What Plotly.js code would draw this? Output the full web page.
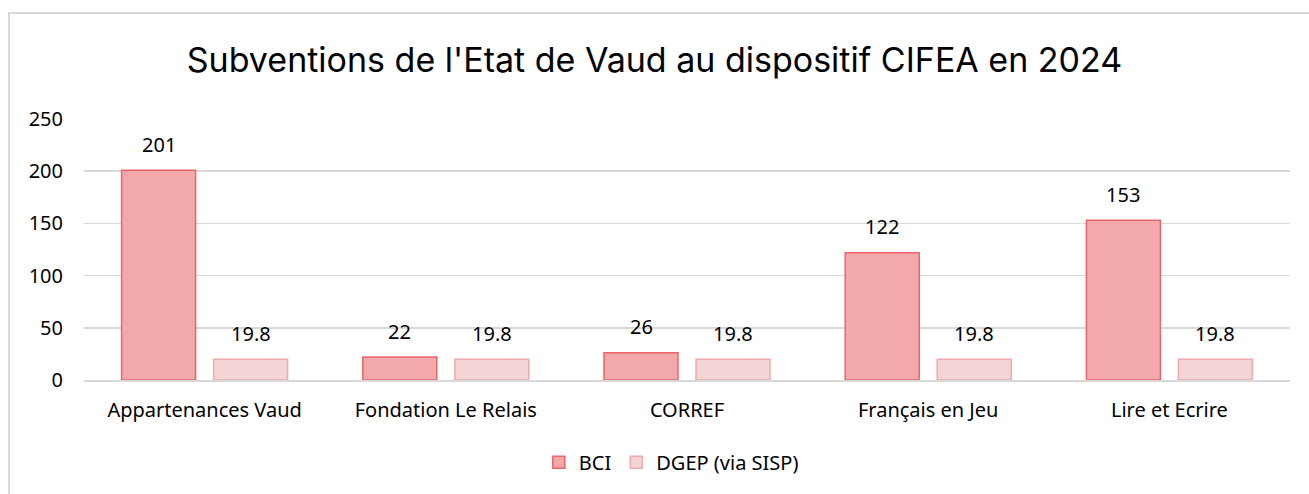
<!DOCTYPE html>
<html>
<head>
<meta charset="utf-8">
<script src="https://cdn.plot.ly/plotly-3.0.1.min.js"></script>
<style>
  html, body { margin: 0; padding: 0; background: #fff; }
  #frame { position: absolute; left: 8px; top: 12px; width: 1310px; height: 490px; border: 2px solid #d9d9d9; box-sizing: border-box; }
  #chart { position: absolute; left: 0; top: 0; width: 1309px; height: 494px; }
</style>
</head>
<body>
<div id="frame"></div>
<div id="chart"></div>
<script>
const categories = ["Appartenances Vaud", "Fondation Le Relais", "CORREF", "Français en Jeu", "Lire et Ecrire"];
const bciValues = [201, 22, 26, 122, 153];
const dgepValues = [19.8, 19.8, 19.8, 19.8, 19.8];
const seriesNames = ["BCI", "DGEP (via SISP)"];
const yTicks = [0, 50, 100, 150, 200, 250];

const labelFont = { family: "'Noto Sans', sans-serif", size: 20, color: "#000" };

const traces = [
  {
    type: "bar", name: seriesNames[0], x: categories, y: bciValues,
    marker: { color: "#f3a8a9", line: { color: "#e8666b", width: 1.5 } },
    hoverinfo: "x+y"
  },
  {
    type: "bar", name: seriesNames[1], x: categories, y: dgepValues,
    marker: { color: "#f4d4d5", line: { color: "#eeaaac", width: 1.5 } },
    hoverinfo: "x+y"
  }
];

const annotations = [];
const offsets = [-46, 46];
[bciValues, dgepValues].forEach((vals, s) => {
  vals.forEach((v, i) => {
    annotations.push({
      x: categories[i], y: v, xref: "x", yref: "y",
      text: String(v), showarrow: false,
      xshift: offsets[s], yshift: 26,
      font: labelFont
    });
  });
});

const layout = {
  width: 1309, height: 494,
  paper_bgcolor: "rgba(0,0,0,0)", plot_bgcolor: "rgba(0,0,0,0)",
  margin: { l: 84, r: 19, t: 119, b: 114 },
  title: {
    text: "Subventions de l'Etat de Vaud au dispositif CIFEA en 2024",
    font: { family: "Inter, 'Noto Sans', sans-serif", size: 34, color: "#000" },
    x: 0.5, xanchor: "center", y: 0.878, yanchor: "middle"
  },
  barmode: "group", bargap: 0.237, bargroupgap: 0.196,
  xaxis: {
    type: "category", tickfont: labelFont, showline: true, linecolor: "#d9d9d9", linewidth: 1.5,
    ticks: "", showgrid: false, automargin: false, ticklabelstandoff: 11
  },
  yaxis: {
    range: [0, 250], tickvals: yTicks, ticktext: yTicks.map(String), tickfont: labelFont,
    showgrid: true, gridcolor: "#d9d9d9", gridwidth: 1.5, zeroline: false, showline: false,
    ticks: "", ticklabelstandoff: 20, automargin: false
  },
  legend: {
    orientation: "h", x: 0.487, xanchor: "center", y: -0.315, yanchor: "middle",
    font: labelFont, itemwidth: 30, traceorder: "normal"
  },
  annotations: annotations,
  showlegend: true
};

Plotly.newPlot("chart", traces, layout, { displayModeBar: false, staticPlot: true });
</script>
</body>
</html>
